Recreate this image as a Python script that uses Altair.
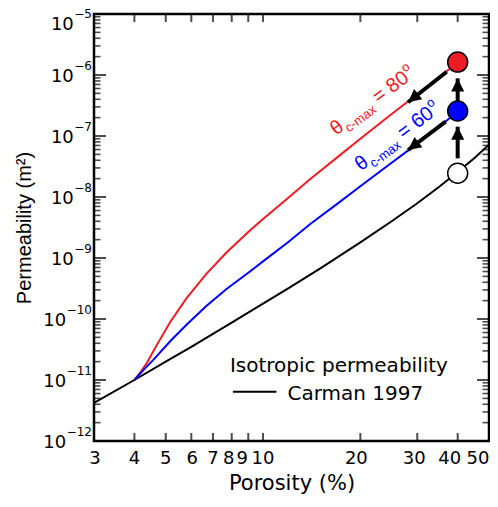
import altair as alt
import pandas as pd

# ---------------- data ----------------
carman_x = [3, 4, 5, 6, 7, 8, 10, 12, 15, 20, 25, 30, 35, 40, 45, 50]
carman_k = [4.2e-12, 1.0e-11, 2.0e-11, 3.5e-11, 5.7e-11, 8.7e-11, 1.78e-10, 3.2e-10,
            6.7e-10, 1.8e-9, 4.0e-9, 7.9e-9, 1.46e-8, 2.56e-8, 4.3e-8, 7.2e-8]

red_x = [4, 4.2, 4.37, 4.7, 5.17, 5.81, 6.69, 7.71, 9.09, 10, 12, 14, 17, 20, 24, 28, 33, 40]
red_k = [1.0e-11, 1.4e-11, 1.9e-11, 3.8e-11, 9.0e-11, 2.22e-10, 5.55e-10, 1.23e-9, 2.8e-9,
         4.34e-9, 9.8e-9, 1.97e-8, 4.5e-8, 9.0e-8, 1.94e-7, 3.65e-7, 7.2e-7, 1.6e-6]

blue_x = [4, 4.3, 4.57, 5.17, 5.81, 6.69, 7.71, 9.09, 10, 12, 14, 17, 20, 24, 28, 33, 40]
blue_k = [1.0e-11, 1.52e-11, 2.12e-11, 4.35e-11, 8.1e-11, 1.65e-10, 3.1e-10, 5.96e-10,
          8.8e-10, 1.85e-9, 3.6e-9, 7.8e-9, 1.5e-8, 3.1e-8, 5.7e-8, 1.1e-7, 2.5e-7]

point_x = [40, 40, 40]
point_k = [2.45e-8, 2.57e-7, 1.63e-6]
point_fill = ["#FFFFFF", "#0000FF", "#ED1C24"]

arrow_x = [37.0, 36.7, 40, 40]
arrow_k = [1.13e-6, 1.72e-7, 4.3e-8, 3.65e-7]
arrow_tip_x = [28.1, 28.1, 40, 40]
arrow_tip_k = [3.57e-7, 5.9e-8, 1.42e-7, 8.8e-7]
arrow_angle = [231, 233, 0, 0]

label_x = [16.84, 20.1]
label_k = [1.0e-7, 2.63e-8]
label_value = ["= 80", "= 60"]
label_color = ["#ED1C24", "#0000FF"]

legend_title = "Isotropic permeability"
legend_item = "Carman 1997"
legend_title_pos = (7.9, 1.37e-11)
legend_item_pos = (11.9, 4.7e-12)
legend_line_x = [8.07, 11.0]
legend_line_k = 6.43e-12

x_tick_values = [3, 4, 5, 6, 7, 8, 9, 10, 20, 30, 40, 50]
x_tick_labels = ["3", "4", "5", "6", "7", "8", "9", "10", "20", "30", "40", "50"]
y_exponents = [-12, -11, -10, -9, -8, -7, -6, -5]

# ---------------- helpers ----------------
RED = "#ED1C24"
BLUE = "#0000FF"
FONT = "DejaVu Sans"
AFONT = "Liberation Sans"

xs = alt.Scale(type="log", domain=[3, 50], nice=False)
ys = alt.Scale(type="log", domain=[1e-12, 1e-5], nice=False)

xaxis = alt.Axis(title="Porosity (%)", labels=False, ticks=False, domain=False, grid=False,
                 titleFont=FONT, titleFontSize=21, titleFontWeight="normal",
                 titleColor="black", titlePadding=31)
yaxis = alt.Axis(title="Permeability (m²)", labels=False, ticks=False, domain=False,
                 grid=False, titleFont=AFONT, titleFontSize=20,
                 titleFontWeight="normal", titleColor="black", titlePadding=60)


def X(f):
    return alt.X(f, type="quantitative", scale=xs, axis=xaxis)


def Y(f):
    return alt.Y(f, type="quantitative", scale=ys, axis=yaxis)


def line_layer(xv, kv, color):
    df = pd.DataFrame({"x": xv, "k": kv})
    return alt.Chart(df).mark_line(color=color, strokeWidth=2, clip=True).encode(
        x=X("x"), y=Y("k"), order="x:Q")


carman = line_layer(carman_x, carman_k, "black")
red = line_layer(red_x, red_k, RED)
blue = line_layer(blue_x, blue_k, BLUE)

# ---- inward ticks on all four sides ----
minor_vals = [m * 10.0 ** e for e in range(-12, -5) for m in range(2, 10)]
major_vals = [10.0 ** e for e in y_exponents]

xt_df = pd.DataFrame({"x": x_tick_values * 2,
                      "k": [1e-12] * len(x_tick_values) + [1e-5] * len(x_tick_values)})
x_ticks = alt.Chart(xt_df).mark_tick(orient="vertical", size=16, thickness=2,
                                     color="black", clip=True).encode(x=X("x"), y=Y("k"))

ymin_df = pd.DataFrame({"x": [3] * len(minor_vals) + [50] * len(minor_vals),
                        "k": minor_vals * 2})
y_minor = alt.Chart(ymin_df).mark_tick(orient="horizontal", size=13, thickness=1.6,
                                       color="black", clip=True).encode(x=X("x"), y=Y("k"))
ymaj_df = pd.DataFrame({"x": [3] * len(major_vals) + [50] * len(major_vals),
                        "k": major_vals * 2})
y_major = alt.Chart(ymaj_df).mark_tick(orient="horizontal", size=24, thickness=2,
                                       color="black", clip=True).encode(x=X("x"), y=Y("k"))

# ---- x tick labels (small per-label nudges as in the original) ----
x_nudge = [1, 0, 0, 1, 0, -3, -6, 0, -4, -3, -8, -11]
xl_df = pd.DataFrame({"x": x_tick_values, "k": [1e-12] * len(x_tick_values),
                      "t": x_tick_labels, "n": x_nudge})
xlab_layers = []
for n in sorted(set(x_nudge)):
    xlab_layers.append(
        alt.Chart(xl_df).transform_filter(f"datum.n == {n}").mark_text(
            align="center", baseline="top", dx=n, dy=9, font=FONT, fontSize=18,
            color="black").encode(x=X("x"), y=Y("k"), text="t:N"))

# ---- y tick labels 10^n ----
ylab_df = pd.DataFrame({"x": [3] * len(y_exponents),
                        "k": [10.0 ** e for e in y_exponents],
                        "base": ["10"] * len(y_exponents),
                        "exp": [("\u2212" + str(abs(e))) for e in y_exponents],
                        "nd": [len(str(abs(e))) for e in y_exponents],
                        "top": [1 if e == -5 else 0 for e in y_exponents]})
EXP_SIZE = 12
BASE_SIZE = 18
ylab_layers = []
for top, shift in ((0, 0), (1, 9)):
    ylab_layers.append(
        alt.Chart(ylab_df).transform_filter(f"datum.top == {top}").mark_text(
            align="right", baseline="middle", dx=-2, dy=-9 + shift, font=FONT,
            fontSize=EXP_SIZE, color="black").encode(x=X("x"), y=Y("k"), text="exp:N"))
    for nd in (1, 2):
        w = EXP_SIZE * (0.838 + 0.636 * nd)
        ylab_layers.append(
            alt.Chart(ylab_df).transform_filter(
                f"datum.nd == {nd} && datum.top == {top}").mark_text(
                align="right", baseline="middle", dx=-(2 + w + 0.5), dy=1.5 + shift,
                font=FONT, fontSize=BASE_SIZE, color="black").encode(
                x=X("x"), y=Y("k"), text="base:N"))

# ---- arrows ----
arr_df = pd.DataFrame({"x": arrow_x, "k": arrow_k, "x2": arrow_tip_x, "k2": arrow_tip_k,
                       "ang": arrow_angle})
shafts = alt.Chart(arr_df).mark_rule(color="black", strokeWidth=4).encode(
    x=X("x"), y=Y("k"), x2="x2:Q", y2="k2:Q")
heads = alt.Chart(arr_df).mark_point(shape="M0,0L-1,2L1,2Z", filled=True, color="black",
                                     opacity=1, size=169, strokeWidth=0).encode(
    x=X("x2"), y=Y("k2"), angle=alt.Angle("ang:Q", scale=None))

# ---- circles ----
pt_df = pd.DataFrame({"x": point_x, "k": point_k, "fill": point_fill})
circles = alt.Chart(pt_df).mark_point(shape="circle", filled=True, size=400, stroke="black",
                                      strokeWidth=1.5, opacity=1).encode(
    x=X("x"), y=Y("k"), fill=alt.Fill("fill:N", scale=None))

# ---- rotated labels theta_c-max = 80 / 60 ----
lab_df = pd.DataFrame({"x": label_x, "k": label_k, "val": label_value, "col": label_color,
                       "theta": ["θ", "θ"], "sub": ["c-max", "c-max"], "deg": ["o", "o"]})
BIG, SMALL = 20, 13
W = {"θ": 0.556, "c": 0.5, "-": 0.333, "m": 0.833, "a": 0.556, "x": 0.5, "=": 0.584,
     " ": 0.278, "8": 0.556, "0": 0.556, "6": 0.556, "o": 0.556}


def tw(s, size):
    return sum(W[c] for c in s) * size


d_sub = tw("θ", BIG) + 1
d_val = d_sub + tw("c-max", SMALL) + tw(" ", BIG)
d_deg = d_val + tw("= 80", BIG) + 0.5
pieces = [("theta", BIG, 0, 0), ("sub", SMALL, d_sub, 5), ("val", BIG, d_val, 0),
          ("deg", SMALL, d_deg, -9)]
lab_layers = []
for field, size, dx, dy in pieces:
    lab_layers.append(alt.Chart(lab_df).mark_text(
        align="left", baseline="alphabetic", angle=323, dx=dx, dy=dy, font=AFONT,
        fontSize=size).encode(x=X("x"), y=Y("k"), text=f"{field}:N",
                              color=alt.Color("col:N", scale=None)))

# ---- legend ----
leg_df = pd.DataFrame({"x": [legend_title_pos[0], legend_item_pos[0]],
                       "k": [legend_title_pos[1], legend_item_pos[1]],
                       "t": [legend_title, legend_item]})
leg_text = alt.Chart(leg_df).mark_text(align="left", baseline="alphabetic", font=FONT,
                                       fontSize=20, color="black").encode(
    x=X("x"), y=Y("k"), text="t:N")
legl_df = pd.DataFrame({"x": [legend_line_x[0]], "x2": [legend_line_x[1]],
                        "k": [legend_line_k]})
leg_line = alt.Chart(legl_df).mark_rule(color="black", strokeWidth=2).encode(
    x=X("x"), x2="x2:Q", y=Y("k"))

chart = alt.layer(
    carman, red, blue, x_ticks, y_minor, y_major, shafts, heads, circles,
    *lab_layers, leg_text, leg_line, *ylab_layers, *xlab_layers
).properties(
    width=395, height=427,
    autosize=alt.AutoSizeParams(type="none"),
    padding={"left": 86, "top": 6, "right": 1, "bottom": 53},
    background="white",
).configure_view(stroke="black", strokeWidth=2.5)

chart.save("out.html", embed_options={"renderer": "svg", "actions": False})
